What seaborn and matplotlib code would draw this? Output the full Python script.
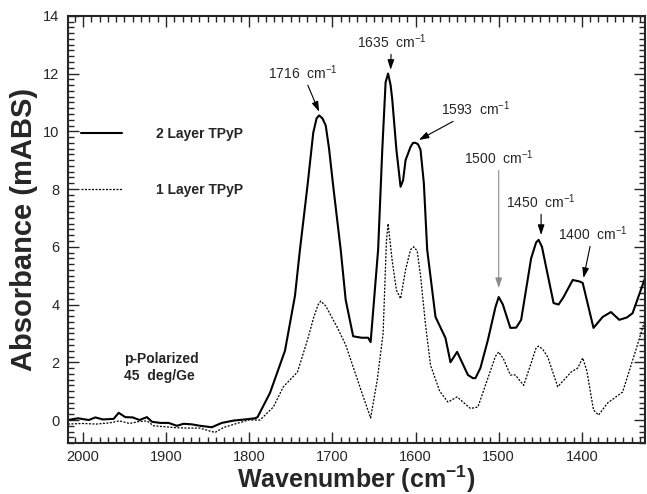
import numpy as np
import pandas as pd
import matplotlib
matplotlib.use("Agg")
import matplotlib.pyplot as plt
import seaborn as sns
from matplotlib.ticker import MultipleLocator

# ---- data ----
wn_2layer = [2018, 2006, 1993, 1985, 1976, 1963, 1957, 1949, 1940, 1932, 1923, 1917, 1907,
             1897, 1887, 1879, 1869, 1859, 1845, 1833, 1819, 1802, 1793, 1790, 1775, 1757,
             1745, 1739, 1730, 1723, 1719, 1716, 1712, 1708, 1704, 1699, 1690, 1684, 1675, 1665,
             1657, 1654, 1645, 1640, 1636, 1633, 1630, 1628, 1623, 1618, 1615, 1612, 1606, 1603,
             1600, 1597, 1594, 1590, 1586, 1576, 1564, 1558, 1550, 1537, 1531, 1528, 1522, 1513,
             1504, 1500, 1495, 1486, 1479, 1473, 1461, 1455, 1452, 1448, 1443, 1434, 1428,
             1422, 1411, 1403, 1399, 1386, 1375, 1365, 1355, 1346, 1339, 1323]
abs_2layer = [0.0, 0.06, 0.0, 0.09, 0.02, 0.04, 0.25, 0.1, 0.09, 0.0, 0.1, -0.06, -0.1,
              -0.1, -0.2, -0.13, -0.15, -0.2, -0.25, -0.1, -0.02, 0.03, 0.06, 0.1, 0.94, 2.4,
              4.3, 5.9, 8.1, 9.95, 10.45, 10.55, 10.45, 10.2, 9.4, 8.1, 5.9, 4.16, 2.9, 2.85,
              2.85, 2.7, 5.9, 9.36, 11.7, 12.0, 11.6, 11.1, 9.36, 8.08, 8.3, 9.0, 9.46, 9.6,
              9.6, 9.55, 9.36, 8.2, 5.9, 3.57, 2.84, 2.0, 2.36, 1.56, 1.45, 1.45, 1.8, 2.77,
              3.9, 4.26, 4.0, 3.19, 3.2, 3.47, 5.6, 6.15, 6.24, 6.0, 5.3, 4.05, 4.0,
              4.26, 4.85, 4.8, 4.75, 3.19, 3.57, 3.74, 3.47, 3.55, 3.7, 5.0]

wn_1layer = [2018, 2000, 1984, 1968, 1956, 1944, 1934, 1923, 1915, 1903, 1891, 1875, 1859,
             1849, 1841, 1831, 1815, 1801, 1787, 1771, 1759, 1742, 1730, 1722, 1717, 1714, 1708,
             1694, 1684, 1675, 1664, 1654, 1646, 1639, 1635, 1633, 1628, 1623, 1618, 1612, 1606,
             1602, 1598, 1594, 1588, 1582, 1571, 1561, 1550, 1534, 1525, 1513, 1504, 1500, 1494,
             1486, 1480, 1470, 1461, 1455, 1452, 1447, 1441, 1429, 1413, 1405, 1399, 1394, 1386,
             1380, 1369, 1351, 1335, 1323]
abs_1layer = [-0.14, -0.12, -0.14, -0.1, -0.03, -0.12, -0.06, -0.03, -0.2, -0.23, -0.26, -0.28, -0.28,
              -0.37, -0.43, -0.26, -0.12, 0.0, 0.0, 0.45, 1.15, 1.66, 2.77, 3.6, 4.0, 4.12, 3.95,
              3.2, 2.6, 1.84, 0.9, 0.07, 1.4, 3.0, 6.2, 6.8, 5.5, 4.5, 4.2, 5.2, 5.9,
              6.0, 5.85, 5.0, 3.3, 1.9, 1.0, 0.62, 0.8, 0.4, 0.45, 1.45, 2.2, 2.36, 2.1,
              1.56, 1.56, 1.2, 1.97, 2.5, 2.56, 2.45, 2.18, 1.15, 1.66, 1.8, 2.15, 1.7, 0.35,
              0.17, 0.59, 0.97, 2.43, 3.57]

series_names = ["2 Layer TPyP", "1 Layer TPyP"]

peak_labels = ["1716", "1635", "1593", "1500", "1450", "1400"]
peak_tips_x = [1716, 1630, 1596, 1500, 1449, 1398]
peak_tips_y = [10.68, 12.13, 9.7, 4.57, 6.41, 4.92]
label_x = [1736, 1629, 1527, 1500, 1449, 1387]
label_y = [12.03, 13.1, 10.78, 9.08, 7.56, 6.45]

df = pd.concat([
    pd.DataFrame({"wn": wn_2layer, "A": abs_2layer, "series": series_names[0]}),
    pd.DataFrame({"wn": wn_1layer, "A": abs_1layer, "series": series_names[1]}),
])

sns.set_style("ticks")
plt.rcParams["font.family"] = ["Liberation Sans", "DejaVu Sans"]
plt.rcParams["mathtext.fontset"] = "custom"
plt.rcParams["mathtext.rm"] = "Liberation Sans"
plt.rcParams["mathtext.bf"] = "Liberation Sans:bold"
plt.rcParams["mathtext.it"] = "Liberation Sans:italic"

fig = plt.figure(figsize=(6.47, 4.94), dpi=100)
ax = fig.add_axes([0.105, 0.103, 0.892, 0.865])

sns.lineplot(data=df, x="wn", y="A", hue="series", style="series",
             palette={series_names[0]: "black", series_names[1]: "black"},
             dashes={series_names[0]: "", series_names[1]: (1.6, 1.2)},
             size="series", sizes={series_names[0]: 1.5, series_names[1]: 0.9},
             sort=False, estimator=None, ax=ax)

ax.set_xlim(2018, 1324)
ax.set_ylim(-0.8, 14)
ax.xaxis.set_major_locator(MultipleLocator(100))
ax.xaxis.set_minor_locator(MultipleLocator(10))
ax.yaxis.set_major_locator(MultipleLocator(2))
ax.yaxis.set_minor_locator(MultipleLocator(0.2))
ax.tick_params(which="both", direction="in", top=True, right=True, width=1.0, labelsize=10.5)
ax.tick_params(which="major", length=8)
ax.tick_params(which="minor", length=4)
ax.tick_params(axis="x", which="major", pad=5)
ax.tick_params(axis="y", which="major", pad=6)
for s in ax.spines.values():
    s.set_linewidth(1.5)

ax.set_xlabel("Wavenumber (cm$^{\\mathbf{-1}}$)", fontsize=18, fontweight="bold", labelpad=0)
ax.set_ylabel("Absorbance (mABS)", fontsize=21, fontweight="bold", labelpad=4)

sns.move_legend(ax, "center left", bbox_to_anchor=(0.022, 0.658), frameon=False, title=None,
                handlelength=3.0, handletextpad=2.4, labelspacing=3.0,
                borderpad=0, borderaxespad=0, prop={"weight": "bold", "size": 10})

ax.text(1951, 1.82, "p-Polarized\n45  deg/Ge", fontsize=10, fontweight="bold",
        ha="left", va="center", linespacing=1.3)

for lab, tx, ty, lx, ly in zip(peak_labels, peak_tips_x, peak_tips_y, label_x, label_y):
    col = "0.55" if lab == "1500" else "black"
    ax.annotate(lab + "  cm$^{-1}$", xy=(tx, ty), xytext=(lx, ly), fontsize=10,
                ha="center", va="center",
                arrowprops=dict(arrowstyle="-|>,head_length=0.6,head_width=0.2",
                                color=col, lw=0.8, shrinkA=0, shrinkB=0))

fig.savefig("out.png", dpi=100)
